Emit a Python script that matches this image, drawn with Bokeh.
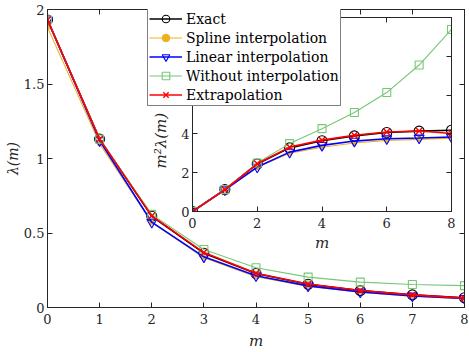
from bokeh.plotting import figure
from bokeh.models import Legend, LegendItem, LinearAxis, FixedTicker, Range1d, ColumnDataSource
from bokeh.layouts import column
from bokeh.embed import file_html
from bokeh.resources import INLINE

# ---------------- data ----------------
m = [0, 1, 2, 3, 4, 5, 6, 7, 8]
lam_exact = [1.93, 1.13, 0.6125, 0.3644, 0.2281, 0.1560, 0.1131, 0.0845, 0.0655]
lam_spline = [1.88, 1.10, 0.570, 0.3333, 0.2069, 0.1412, 0.1019, 0.0759, 0.0591]
lam_linear = [1.93, 1.12, 0.5725, 0.3400, 0.2131, 0.1452, 0.1042, 0.0773, 0.0600]
lam_without = [1.93, 1.13, 0.625, 0.3889, 0.2669, 0.2040, 0.1703, 0.1541, 0.1466]
lam_extrap = [1.93, 1.13, 0.615, 0.3689, 0.2300, 0.1572, 0.1139, 0.0847, 0.0628]
series_names = ["Exact", "Spline interpolation", "Linear interpolation",
                "Without interpolation", "Extrapolation"]

main_xticks = [0, 1, 2, 3, 4, 5, 6, 7, 8]
main_yticks = [0, 0.5, 1, 1.5, 2]
main_ytick_labels = ["0", "0.5", "1", "1.5", "2"]
inset_xticks = [0, 2, 4, 6, 8]
inset_yticks = [0, 2, 4, 6, 8, 10]

# ---------------- styles ----------------
FONT = "DejaVu Serif"
AX = "#262626"
styles = [
    dict(color="#000000", marker="circle", size=10, lw=1.6, fill=False, mlw=1.1),
    dict(color="#EDB120", marker="circle", size=4.5, lw=1.1, fill=True, mlw=1.0),
    dict(color="#0000FF", marker="inverted_triangle", size=10, lw=1.6, fill=False, mlw=1.1),
    dict(color="#77C777", marker="square", size=8, lw=1.1, fill=False, mlw=1.1),
    dict(color="#FF0000", marker="x", size=9, lw=1.6, fill=False, mlw=1.4),
]
all_lams = [lam_exact, lam_spline, lam_linear, lam_without, lam_extrap]


def style_axes(p, xticks, yticks, ylabels, x_lab_standoff, y_tick_standoff, y_lab_standoff, ylab_size):
    p.xgrid.visible = False
    p.ygrid.visible = False
    p.outline_line_color = AX
    p.outline_line_width = 1
    for ax in list(p.xaxis) + list(p.yaxis):
        ax.major_tick_in = 5
        ax.major_tick_out = 0
        ax.minor_tick_line_color = None
        ax.axis_line_color = AX
        ax.major_tick_line_color = AX
        ax.major_label_text_font = FONT
        ax.major_label_text_font_size = "13px"
        ax.major_label_text_color = AX
        ax.axis_label_text_font = FONT
        ax.axis_label_text_font_size = "15px"
        ax.axis_label_text_font_style = "italic"
        ax.axis_label_text_color = AX
    p.xaxis.ticker = FixedTicker(ticks=xticks)
    p.yaxis.ticker = FixedTicker(ticks=yticks)
    p.xaxis.major_label_standoff = 6
    p.xaxis.axis_label_standoff = x_lab_standoff
    p.yaxis.major_label_standoff = y_tick_standoff
    p.yaxis.axis_label_standoff = y_lab_standoff
    p.yaxis.axis_label_text_font_size = ylab_size
    if ylabels is not None:
        p.yaxis.major_label_overrides = {t: l for t, l in zip(yticks, ylabels)}
    # top and right boxed axes with inward ticks, no labels
    top = LinearAxis(ticker=FixedTicker(ticks=xticks))
    right = LinearAxis(ticker=FixedTicker(ticks=yticks))
    for ax in (top, right):
        ax.major_tick_in = 5
        ax.major_tick_out = 0
        ax.minor_tick_line_color = None
        ax.axis_line_color = AX
        ax.major_tick_line_color = AX
        ax.major_label_text_color = None
        ax.major_label_text_font_size = "1px"
        ax.major_label_standoff = 0
        ax.axis_label = None
    p.add_layout(top, "above")
    p.add_layout(right, "right")


# ---------------- inset figure (drawn underneath) ----------------
q = figure(width=324, height=248, output_backend="svg", toolbar_location=None,
           x_range=Range1d(0, 8), y_range=Range1d(0, 10), frame_align=False,
           min_border_left=60, min_border_right=5, min_border_top=9, min_border_bottom=45,
           margin=(8, 0, 0, 132))
q.background_fill_color = "white"
q.border_fill_color = None
q.xaxis.axis_label = "m"
# non-breaking spaces push the visible label below the legend, as in the reference
q.yaxis.axis_label = "m²λ(m)" + "\u00a0" * 11

# ---------------- main figure (on top, transparent frame) ----------------
p = figure(width=469, height=352, output_backend="svg", toolbar_location=None,
           x_range=Range1d(0, 8), y_range=Range1d(0, 2), frame_align=False,
           min_border_left=47, min_border_right=5, min_border_top=9, min_border_bottom=45,
           margin=(-256, 0, 0, 0))
p.background_fill_color = None
p.border_fill_color = None
p.xaxis.axis_label = "m"
p.yaxis.axis_label = "λ(m)"

items = []
for name, lam, st in zip(series_names, all_lams, styles):
    src = ColumnDataSource(dict(m=m, lam=lam, m2lam=[mm * mm * l for mm, l in zip(m, lam)]))
    fill = st["color"] if st["fill"] else None
    r1 = p.line("m", "lam", source=src, line_color=st["color"], line_width=st["lw"])
    r2 = p.scatter("m", "lam", source=src, marker=st["marker"], size=st["size"],
                   line_color=st["color"], fill_color=fill, line_width=st["mlw"])
    q.line("m", "m2lam", source=src, line_color=st["color"], line_width=st["lw"])
    q.scatter("m", "m2lam", source=src, marker=st["marker"], size=st["size"],
              line_color=st["color"], fill_color=fill, line_width=st["mlw"])
    items.append(LegendItem(label=name, renderers=[r1, r2]))

style_axes(p, main_xticks, main_yticks, main_ytick_labels, 5, 3, 0, "14px")
style_axes(q, inset_xticks, inset_yticks, None, 3, 3, 0, "15px")

legend = Legend(items=items, location=(100, 201))
legend.border_line_color = "black"
legend.border_line_width = 1
legend.background_fill_color = "white"
legend.background_fill_alpha = 1
legend.label_text_font = FONT
legend.label_text_font_size = "14px"
legend.label_text_color = "black"
legend.glyph_width = 33
legend.glyph_height = 19
legend.label_height = 19
legend.spacing = 0
legend.padding = 1
legend.label_standoff = 4
legend.margin = 0
p.add_layout(legend)

layout = column(q, p)
open("out.html", "w").write(file_html(layout, INLINE))
